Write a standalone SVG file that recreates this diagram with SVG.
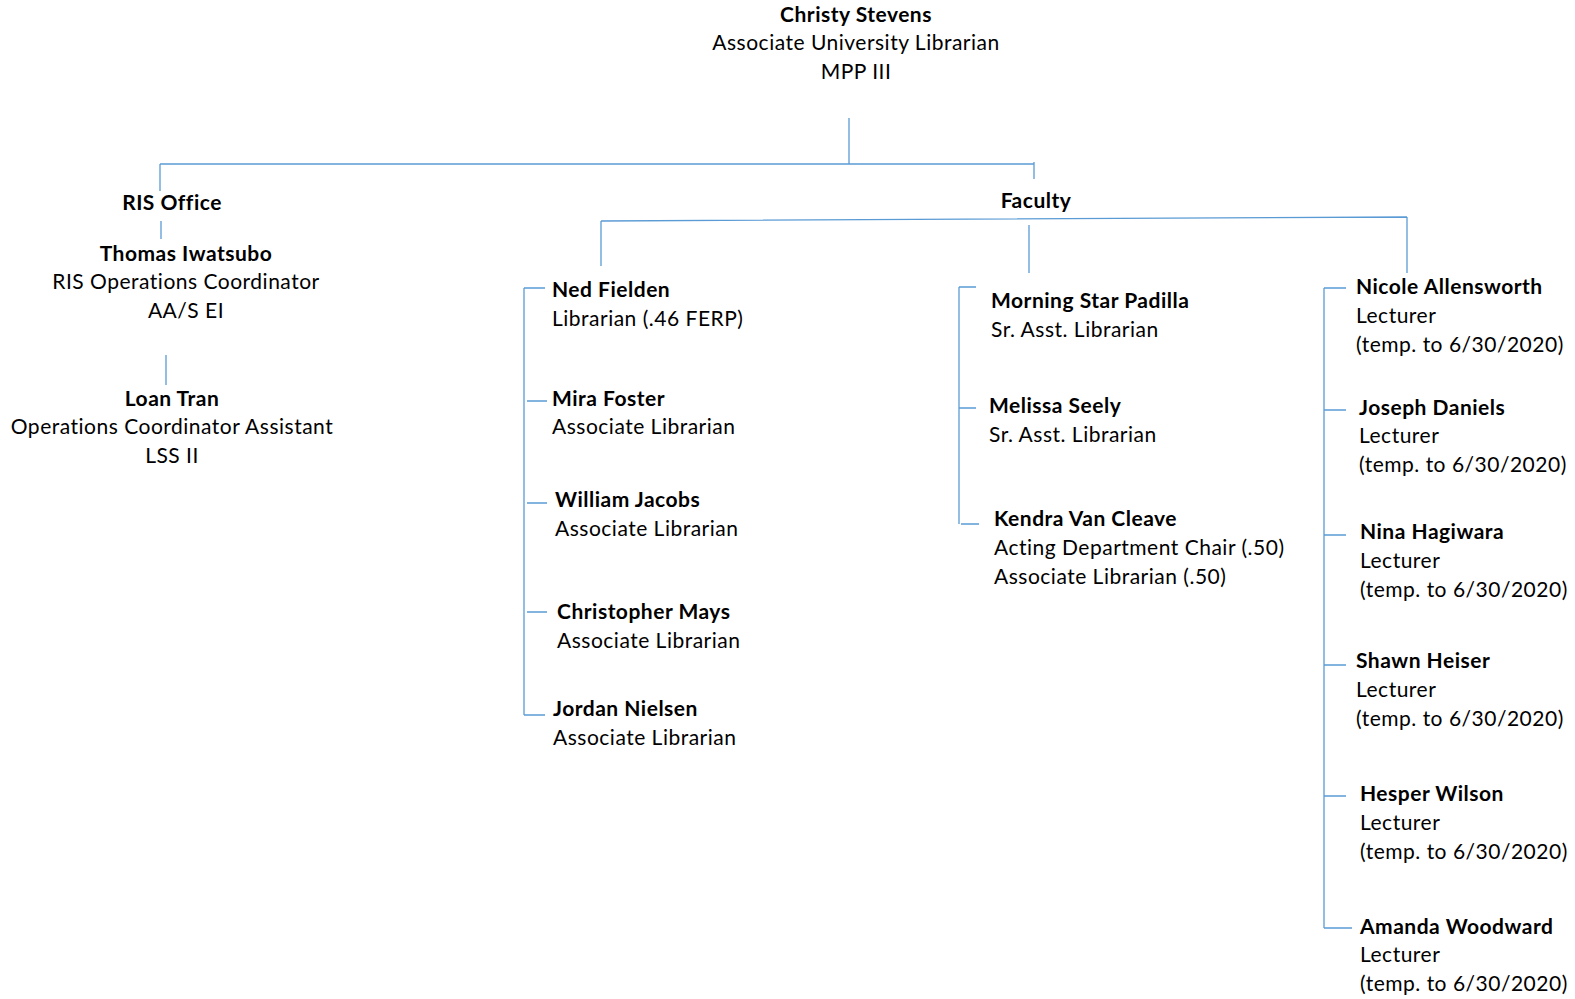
<svg xmlns="http://www.w3.org/2000/svg" width="1575" height="999" viewBox="0 0 1575 999">
<style>
text{font-family:Lato,"Liberation Sans",sans-serif;font-size:21px;letter-spacing:0.5px;fill:#000}
.b{font-weight:bold}
.c{text-anchor:middle}
.ln{stroke:#5B9BD5;stroke-width:1.3;fill:none}
</style>
<rect width="1575" height="999" fill="#fff"/>
<g id="connectors" class="ln">
<path d="M849 118V164M160 164H1034M160 164V191M1034 162V179"/>
<path d="M161 221V239M166 355V385"/>
<path d="M601 221L1407 217M601 221V266M1029 225V273M1407 217V273"/>
<path d="M524 288V715M524 288H545M527 401H547M527 503H547M527 612H547M524 715H545"/>
<path d="M959 287V524M959 287H976M959 408H976M961 524H979"/>
<path d="M1324 288V928M1324 288H1346M1324 410H1346M1324 535H1346M1324 665H1346M1324 796H1346M1324 928H1352"/>
</g>
<g id="christy" class="c"><text x="856" y="22" class="b">Christy Stevens</text><text x="856" y="50">Associate University Librarian</text><text x="856" y="79">MPP III</text></g>
<g id="ris-office" class="c"><text x="172" y="210" class="b">RIS Office</text></g>
<g id="thomas" class="c"><text x="186" y="261" class="b">Thomas Iwatsubo</text><text x="186" y="289">RIS Operations Coordinator</text><text x="186" y="318">AA/S EI</text></g>
<g id="loan" class="c"><text x="172" y="406" class="b">Loan Tran</text><text x="172" y="434">Operations Coordinator Assistant</text><text x="172" y="463">LSS II</text></g>
<g id="faculty" class="c"><text x="1036" y="208" class="b">Faculty</text></g>
<g id="ned"><text x="552" y="297" class="b">Ned Fielden</text><text x="552" y="326">Librarian (.46 FERP)</text></g>
<g id="mira"><text x="552" y="406" class="b">Mira Foster</text><text x="552" y="434">Associate Librarian</text></g>
<g id="william"><text x="555" y="507" class="b">William Jacobs</text><text x="555" y="536">Associate Librarian</text></g>
<g id="christopher"><text x="557" y="619" class="b">Christopher Mays</text><text x="557" y="648">Associate Librarian</text></g>
<g id="jordan"><text x="553" y="716" class="b">Jordan Nielsen</text><text x="553" y="745">Associate Librarian</text></g>
<g id="morning"><text x="991" y="308" class="b">Morning Star Padilla</text><text x="991" y="337">Sr. Asst. Librarian</text></g>
<g id="melissa"><text x="989" y="413" class="b">Melissa Seely</text><text x="989" y="442">Sr. Asst. Librarian</text></g>
<g id="kendra"><text x="994" y="526" class="b">Kendra Van Cleave</text><text x="994" y="555">Acting Department Chair (.50)</text><text x="994" y="584">Associate Librarian (.50)</text></g>
<g id="nicole"><text x="1356" y="294" class="b">Nicole Allensworth</text><text x="1356" y="323">Lecturer</text><text x="1356" y="352">(temp. to 6/30/2020)</text></g>
<g id="joseph"><text x="1359" y="415" class="b">Joseph Daniels</text><text x="1359" y="443">Lecturer</text><text x="1359" y="472">(temp. to 6/30/2020)</text></g>
<g id="nina"><text x="1360" y="539" class="b">Nina Hagiwara</text><text x="1360" y="568">Lecturer</text><text x="1360" y="597">(temp. to 6/30/2020)</text></g>
<g id="shawn"><text x="1356" y="668" class="b">Shawn Heiser</text><text x="1356" y="697">Lecturer</text><text x="1356" y="726">(temp. to 6/30/2020)</text></g>
<g id="hesper"><text x="1360" y="801" class="b">Hesper Wilson</text><text x="1360" y="830">Lecturer</text><text x="1360" y="859">(temp. to 6/30/2020)</text></g>
<g id="amanda"><text x="1360" y="934" class="b">Amanda Woodward</text><text x="1360" y="962">Lecturer</text><text x="1360" y="991">(temp. to 6/30/2020)</text></g>
</svg>
